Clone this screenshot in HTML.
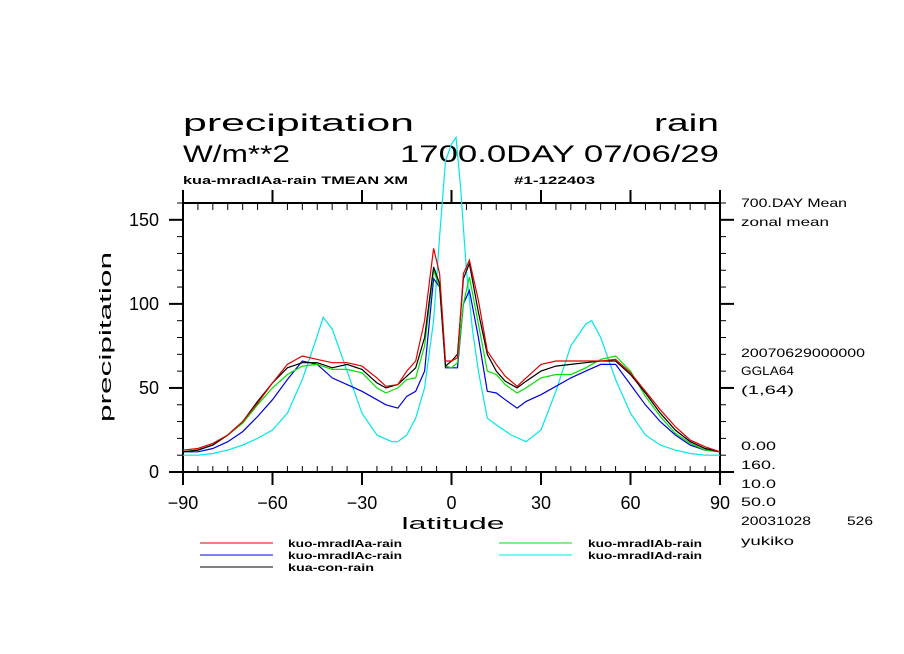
<!DOCTYPE html>
<html><head><meta charset="utf-8"><style>
html,body{margin:0;padding:0;background:#fff;}
svg{display:block;}
text{font-family:"Liberation Sans","DejaVu Sans",sans-serif;fill:#000;}
.b{font-weight:bold;}
</style></head><body>
<svg id="chart" width="904" height="654" viewBox="0 0 904 654" xmlns="http://www.w3.org/2000/svg">
<g>
<text x="183" y="131" font-size="24" textLength="231" lengthAdjust="spacingAndGlyphs">precipitation</text>
<text x="654" y="131" font-size="24" textLength="65" lengthAdjust="spacingAndGlyphs">rain</text>
<text x="183" y="162" font-size="24" textLength="107" lengthAdjust="spacingAndGlyphs">W/m**2</text>
<text x="400" y="162" font-size="24" textLength="319" lengthAdjust="spacingAndGlyphs">1700.0DAY 07/06/29</text>
<text class="b" x="183" y="184" font-size="11" textLength="225" lengthAdjust="spacingAndGlyphs">kua-mradIAa-rain TMEAN XM</text>
<text class="b" x="514" y="184" font-size="11" textLength="81" lengthAdjust="spacingAndGlyphs">#1-122403</text>
</g>
<g font-size="12">
<text x="741" y="207" textLength="106" lengthAdjust="spacingAndGlyphs">700.DAY Mean</text>
<text x="741" y="226" textLength="88" lengthAdjust="spacingAndGlyphs">zonal mean</text>
<text x="741" y="357" textLength="124" lengthAdjust="spacingAndGlyphs">20070629000000</text>
<text x="741" y="375" textLength="53" lengthAdjust="spacingAndGlyphs">GGLA64</text>
<text x="741" y="394" textLength="53" lengthAdjust="spacingAndGlyphs">(1,64)</text>
<text x="741" y="450" textLength="35" lengthAdjust="spacingAndGlyphs">0.00</text>
<text x="741" y="469" textLength="35" lengthAdjust="spacingAndGlyphs">160.</text>
<text x="741" y="488" textLength="35" lengthAdjust="spacingAndGlyphs">10.0</text>
<text x="741" y="506" textLength="35" lengthAdjust="spacingAndGlyphs">50.0</text>
<text x="741" y="525" textLength="70" lengthAdjust="spacingAndGlyphs">20031028</text>
<text x="847" y="525" textLength="26" lengthAdjust="spacingAndGlyphs">526</text>
<text x="741" y="545" textLength="53" lengthAdjust="spacingAndGlyphs">yukiko</text>
</g>
<g id="axes"></g>
<g id="series"></g>
<text x="453" y="529" font-size="17" text-anchor="middle" textLength="103" lengthAdjust="spacingAndGlyphs">latitude</text>
<text x="0" y="0" font-size="17" text-anchor="middle" textLength="170" lengthAdjust="spacingAndGlyphs" transform="translate(111,337) rotate(-90)">precipitation</text>
<g>
<line x1="200" y1="543" x2="273" y2="543" stroke="#e00000" stroke-width="1"/>
<text class="b" x="288" y="547" font-size="10" textLength="114" lengthAdjust="spacingAndGlyphs">kuo-mradIAa-rain</text>
<line x1="200" y1="555" x2="273" y2="555" stroke="#0000e0" stroke-width="1"/>
<text class="b" x="288" y="559" font-size="10" textLength="114" lengthAdjust="spacingAndGlyphs">kuo-mradIAc-rain</text>
<line x1="200" y1="567" x2="273" y2="567" stroke="#000" stroke-width="1"/>
<text class="b" x="288" y="571" font-size="10" textLength="86" lengthAdjust="spacingAndGlyphs">kua-con-rain</text>
<line x1="499" y1="543" x2="572" y2="543" stroke="#00e000" stroke-width="1"/>
<text class="b" x="588" y="547" font-size="10" textLength="114" lengthAdjust="spacingAndGlyphs">kuo-mradIAb-rain</text>
<line x1="499" y1="555" x2="572" y2="555" stroke="#00e8e8" stroke-width="1"/>
<text class="b" x="588" y="559" font-size="10" textLength="114" lengthAdjust="spacingAndGlyphs">kuo-mradIAd-rain</text>
</g>
</svg>
<script>
const lats = [-90,-85,-80,-75,-70,-65,-60,-55,-50,-45,-40,-35,-30,-25,-22,-18,-15,-12,-9,-6,-4,-2,0,2,4,6,9,12,15,18,22,25,30,35,40,45,50,55,60,65,70,75,80,85,90];
const redVals = [13,14,17,22,30,41,53,64,69,67,65,65,63,56,51,52,60,66,90,133,118,66,66,68,118,126,102,72,64,57,51,56,64,66,66,66,66,67,59,48,37,27,19,15,12];
const blackVals = [12,13,16,22,30,42,53,62,65,65,62,64,61,53,50,52,57,62,80,122,112,63,66,70,115,124,95,70,60,54,50,54,60,63,64,65,66,66,58,47,35,25,18,14,12];
const greenVals = [12,13,16,22,29,40,50,58,63,64,61,61,59,50,47,50,55,56,75,120,110,63,62,65,100,116,88,60,58,52,47,50,56,58,58,62,67,69,60,45,33,23,17,13,12];
const blueVals = [12,12,14,18,24,33,43,55,66,64,56,52,48,43,40,38,45,48,60,115,110,62,62,62,100,108,80,48,47,43,38,42,46,51,56,60,64,64,52,40,30,22,16,13,12];
const cyanLats = [-90,-85,-80,-75,-70,-65,-60,-55,-50,-45,-43,-40,-35,-30,-25,-20,-18,-15,-12,-9,-6,-4,-2,0,1.5,3,5,7,9,12,15,20,25,30,35,40,45,47,50,55,60,65,70,75,80,85,90];
const cyanVals = [10,10,11,13,16,20,25,35,55,81,92,85,60,35,22,18,18,22,32,50,90,140,185,195,199,170,120,85,60,32,28,22,18,25,48,75,88,90,80,55,35,22,16,13,11,10,10];
const xTicks = [-90,-60,-30,0,30,60,90];
const yTicks = [0,50,100,150];

const X0=183,X1=720,Y0=472,Y1=203,VMAX=160;
function xs(v){return X0+(v+90)/180*(X1-X0);}
function ys(v){return Y0-v/VMAX*(Y0-Y1);}
const NS='http://www.w3.org/2000/svg';
function mk(tag,attrs,parent){const e=document.createElementNS(NS,tag);for(const k in attrs)e.setAttribute(k,attrs[k]);parent.appendChild(e);return e;}
const ax=document.getElementById('axes');
const fr=mk('rect',{x:X0,y:Y1,width:X1-X0,height:Y0-Y1,fill:'none',stroke:'#000','stroke-width':2},ax);


for(let v=-90;v<=90;v+=5){
  const major=v%30===0;const x=xs(v);
  const t1=mk('line',{x1:x,y1:Y1,x2:x,y2:major?Y1-13:Y1+7,stroke:'#000','stroke-width':major?2:1},ax);
  
  
  const t2=mk('line',{x1:x,y1:Y0,x2:x,y2:major?Y0+13:Y0-6,stroke:'#000','stroke-width':major?2:1},ax);
  
  
}
for(let v=0;v<=VMAX;v+=10){
  const major=v%50===0;const y=ys(v);
  const l=mk('line',{x1:X0,y1:y,x2:X0-(major?14:6),y2:y,stroke:'#000','stroke-width':major?2:1},ax);
  
  
  const r=mk('line',{x1:X1,y1:y,x2:X1+(major?14:6),y2:y,stroke:'#000','stroke-width':major?2:1},ax);
  
  
}
xTicks.forEach(v=>{
  const t=mk('text',{x:xs(v),y:509,'font-size':18,'text-anchor':'middle'},ax);
  t.textContent=String(v).replace('-','\u2212');
  
  
});
yTicks.forEach(v=>{
  const t=mk('text',{x:159,y:ys(v)+6,'font-size':18,'text-anchor':'end'},ax);
  t.textContent=String(v);
  
  
});
const sg=document.getElementById('series');
function line(la,va,color,name){
  const pts=la.map((l,i)=>xs(l).toFixed(1)+','+ys(va[i]).toFixed(1)).join(' ');
  const p=mk('polyline',{points:pts,fill:'none',stroke:color,'stroke-width':1.2},sg);
  
  
}
line(cyanLats,cyanVals,'#00e8e8','series-mradIAd');
line(lats,blueVals,'#0000e0','series-mradIAc');
line(lats,greenVals,'#00e000','series-mradIAb');
line(lats,blackVals,'#000000','series-con');
line(lats,redVals,'#e00000','series-mradIAa');
</script>
</body></html>
